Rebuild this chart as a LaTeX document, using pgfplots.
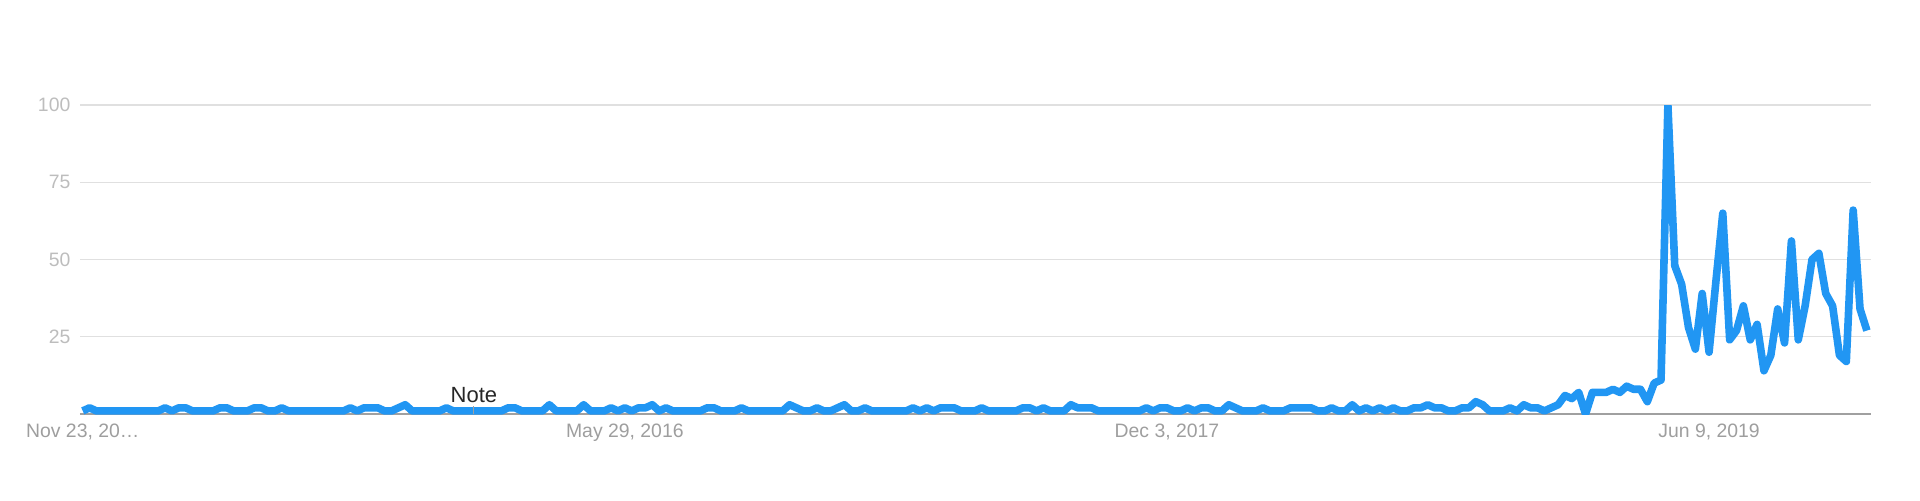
\documentclass[border=0pt]{standalone}
\usepackage{fontspec}
\setmainfont{Liberation Sans}
\usepackage{pgfplots}
\pgfplotsset{compat=1.18}

\definecolor{trendblue}{RGB}{33,150,243}
\definecolor{gridgray}{RGB}{224,224,224}
\definecolor{basegray}{RGB}{160,160,160}
\definecolor{ylabgray}{RGB}{189,189,189}
\definecolor{xlabgray}{RGB}{158,158,158}

\begin{document}
\begin{tikzpicture}
\begin{axis}[
  scale only axis,
  width=895.5pt, height=154.5pt,
  at={(0,0)}, anchor=south west,
  xmin=-0.4, xmax=260.6,
  ymin=0, ymax=100,
  axis line style={draw=none},
  major tick length=0pt,
  xtick={0,79,158,237},
  xticklabels={{Nov 23, 20…},{May 29, 2016},{Dec 3, 2017},{Jun 9, 2019}},
  ytick={25,50,75,100},
  extra y ticks={0},
  extra y tick labels={},
  extra y tick style={grid style={basegray, line width=0.6pt}},
  ymajorgrids=true,
  grid style={gridgray, line width=0.7pt},
  /pgf/number format/assume math mode=true,
  tick label style={font=\fontsize{9.7}{11.5}\selectfont},
  xticklabel style={xlabgray, yshift=-1.5pt},
  yticklabel style={ylabgray, xshift=-1.3pt},
]
\addplot [trendblue, line width=3.8pt, line join=round] coordinates {
(0,1)(1,2)(2,1)(3,1)(4,1)(5,1)(6,1)(7,1)(8,1)(9,1)
(10,1)(11,1)(12,2)(13,1)(14,2)(15,2)(16,1)(17,1)(18,1)(19,1)
(20,2)(21,2)(22,1)(23,1)(24,1)(25,2)(26,2)(27,1)(28,1)(29,2)
(30,1)(31,1)(32,1)(33,1)(34,1)(35,1)(36,1)(37,1)(38,1)(39,2)
(40,1)(41,2)(42,2)(43,2)(44,1)(45,1)(46,2)(47,3)(48,1)(49,1)
(50,1)(51,1)(52,1)(53,2)(54,1)(55,1)(56,1)(57,1)(58,1)(59,1)
(60,1)(61,1)(62,2)(63,2)(64,1)(65,1)(66,1)(67,1)(68,3)(69,1)
(70,1)(71,1)(72,1)(73,3)(74,1)(75,1)(76,1)(77,2)(78,1)(79,2)
(80,1)(81,2)(82,2)(83,3)(84,1)(85,2)(86,1)(87,1)(88,1)(89,1)
(90,1)(91,2)(92,2)(93,1)(94,1)(95,1)(96,2)(97,1)(98,1)(99,1)
(100,1)(101,1)(102,1)(103,3)(104,2)(105,1)(106,1)(107,2)(108,1)(109,1)
(110,2)(111,3)(112,1)(113,1)(114,2)(115,1)(116,1)(117,1)(118,1)(119,1)
(120,1)(121,2)(122,1)(123,2)(124,1)(125,2)(126,2)(127,2)(128,1)(129,1)
(130,1)(131,2)(132,1)(133,1)(134,1)(135,1)(136,1)(137,2)(138,2)(139,1)
(140,2)(141,1)(142,1)(143,1)(144,3)(145,2)(146,2)(147,2)(148,1)(149,1)
(150,1)(151,1)(152,1)(153,1)(154,1)(155,2)(156,1)(157,2)(158,2)(159,1)
(160,1)(161,2)(162,1)(163,2)(164,2)(165,1)(166,1)(167,3)(168,2)(169,1)
(170,1)(171,1)(172,2)(173,1)(174,1)(175,1)(176,2)(177,2)(178,2)(179,2)
(180,1)(181,1)(182,2)(183,1)(184,1)(185,3)(186,1)(187,2)(188,1)(189,2)
(190,1)(191,2)(192,1)(193,1)(194,2)(195,2)(196,3)(197,2)(198,2)(199,1)
(200,1)(201,2)(202,2)(203,4)(204,3)(205,1)(206,1)(207,1)(208,2)(209,1)
(210,3)(211,2)(212,2)(213,1)(214,2)(215,3)(216,6)(217,5)(218,7)(219,0)
(220,7)(221,7)(222,7)(223,8)(224,7)(225,9)(226,8)(227,8)(228,4)(229,10)
(230,11)(231,100)(232,48)(233,42)(234,28)(235,21)(236,39)(237,20)(238,43)(239,65)
(240,24)(241,27)(242,35)(243,24)(244,29)(245,14)(246,19)(247,34)(248,23)(249,56)
(250,24)(251,35)(252,50)(253,52)(254,39)(255,35)(256,19)(257,17)(258,66)(259,34)
(260,27)
};
% annotation marker
\draw [basegray, line width=0.6pt] (axis cs:57,0) -- (axis cs:57,2.6);
\node [anchor=base, inner sep=0pt, font=\fontsize{11}{13}\selectfont, text=black!85]
  at (axis cs:57,3.6) {Note};
\end{axis}
\pgfresetboundingbox
\path [use as bounding box] (-40pt,-43pt) rectangle (920pt,207pt);
\end{tikzpicture}
\end{document}
